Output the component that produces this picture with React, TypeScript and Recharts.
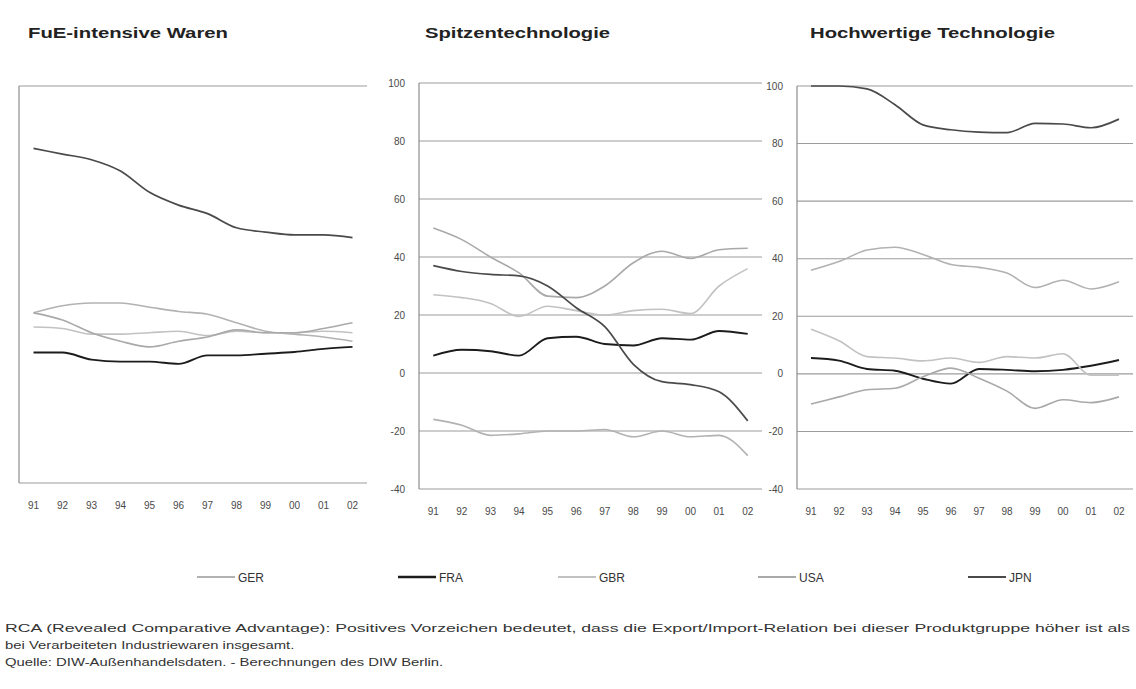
import React from 'react';
import { LineChart, Line, XAxis, YAxis, CartesianGrid } from 'recharts';

const years = ['91', '92', '93', '94', '95', '96', '97', '98', '99', '00', '01', '02'];
const yTicks = [-40, -20, 0, 20, 40, 60, 80, 100];

// FuE-intensive Waren
const fueGER = [20, 22.5, 23.5, 23.5, 22, 20.5, 19.5, 16.5, 13.5, 12.5, 11.5, 10];
const fueFRA = [6, 6, 3.5, 2.8, 2.8, 2, 5, 5, 5.6, 6.2, 7.3, 8];
const fueGBR = [15, 14.5, 12.5, 12.5, 13, 13.5, 12, 13.5, 13, 13, 13.5, 13];
const fueUSA = [20, 17.5, 13, 10, 8, 10, 11.5, 14, 13, 13, 14.5, 16.5];
const fueJPN = [78, 76, 74, 70, 62.5, 58, 55, 50, 48.5, 47.5, 47.5, 46.5];

// Spitzentechnologie
const spiGER = [-16, -18, -21.5, -21, -20, -20, -19.5, -22, -20, -22, -21.5, -28.5];
const spiFRA = [6, 8, 7.5, 6, 12, 12.5, 10, 9.5, 12, 11.5, 14.5, 13.5];
const spiGBR = [27, 26, 24, 19.5, 23, 21.5, 20, 21.5, 22, 20.5, 30, 36];
const spiUSA = [50, 46, 40, 34.5, 26.5, 26, 30, 38, 42, 39.5, 42.5, 43];
const spiJPN = [37, 35, 34, 33.5, 30, 22.5, 16, 3, -3, -4, -6.5, -16.5];

// Hochwertige Technologie
const hocGER = [36, 39, 43, 44, 41.5, 38, 37, 35, 30, 32.5, 29.5, 32];
const hocFRA = [5.5, 4.6, 1.7, 1.1, -1.7, -3.4, 1.7, 1.4, 0.9, 1.4, 2.8, 4.8];
const hocGBR = [15.5, 11.5, 6, 5.5, 4.5, 5.5, 4, 6, 5.5, 7, -0.5, -0.5];
const hocUSA = [-10.5, -8, -5.5, -5, -1, 2, -1.5, -6, -12, -9, -10, -8];
const hocJPN = [100, 100, 99, 93.5, 86.5, 84.8, 84, 83.8, 87, 86.8, 85.5, 88.5];

const SERIES = [
  { key: 'GER', color: '#b2b2b2', width: 1.6 },
  { key: 'FRA', color: '#1c1c1c', width: 1.9 },
  { key: 'GBR', color: '#c2c2c2', width: 1.6 },
  { key: 'USA', color: '#a9a9a9', width: 1.6 },
  { key: 'JPN', color: '#4a4a4a', width: 1.7 },
];

const build = (ger: number[], fra: number[], gbr: number[], usa: number[], jpn: number[]) =>
  years.map((year, i) => ({ year, GER: ger[i], FRA: fra[i], GBR: gbr[i], USA: usa[i], JPN: jpn[i] }));

const fueData = build(fueGER, fueFRA, fueGBR, fueUSA, fueJPN);
const spiData = build(spiGER, spiFRA, spiGBR, spiUSA, spiJPN);
const hocData = build(hocGER, hocFRA, hocGBR, hocUSA, hocJPN);

const FONT = '"Liberation Sans", Arial, sans-serif';
const CH = 540;

interface PanelProps {
  data: Record<string, unknown>[];
  plotLeft: number;
  plotRight: number;
  plotTop: number;
  plotBottom: number;
  showLabels: boolean;
}

function Panel({ data, plotLeft, plotRight, plotTop, plotBottom, showLabels }: PanelProps) {
  const yw = 40;
  const left = plotLeft - yw;
  const width = plotRight - left + 4;
  const half = (plotRight - plotLeft) / years.length / 2;
  return (
    <div style={{ position: 'absolute', left, top: 0 }}>
      <LineChart
        width={width}
        height={CH}
        data={data}
        margin={{ top: plotTop, right: 4, left: 0, bottom: CH - plotBottom - 40 }}
      >
        <CartesianGrid vertical={false} stroke="#9c9c9c" strokeWidth={1.1} />
        <XAxis
          dataKey="year"
          height={40}
          padding={{ left: half, right: half }}
          axisLine={false}
          tickLine={false}
          tickSize={0}
          tickMargin={19}
          interval={0}
          tick={{ fontSize: 10, fill: '#4a4a4a', fontFamily: FONT }}
        />
        <YAxis
          type="number"
          domain={[-40, 100]}
          ticks={yTicks}
          interval={0}
          width={yw}
          axisLine={{ stroke: '#8c8c8c', strokeWidth: 1.2 }}
          tickLine={false}
          tickSize={0}
          tickMargin={14}
          tick={showLabels ? { fontSize: 10, fill: '#4a4a4a', fontFamily: FONT } : false}
        />
        {SERIES.map((s) => (
          <Line
            key={s.key}
            type="monotone"
            dataKey={s.key}
            stroke={s.color}
            strokeWidth={s.width}
            dot={false}
            isAnimationActive={false}
          />
        ))}
      </LineChart>
    </div>
  );
}

const legendItems = [
  { key: 'GER', x: 197 },
  { key: 'FRA', x: 398 },
  { key: 'GBR', x: 558 },
  { key: 'USA', x: 758 },
  { key: 'JPN', x: 968 },
];

export default function App() {
  return (
    <div style={{ position: 'absolute', left: 0, top: 0, width: 1136, height: 689, background: '#fff', fontFamily: FONT }}>
      <Panel data={fueData} plotLeft={18.5} plotRight={366.5} plotTop={86} plotBottom={483} showLabels={false} />
      <Panel data={spiData} plotLeft={419} plotRight={762} plotTop={83} plotBottom={489} showLabels />
      <Panel data={hocData} plotLeft={797} plotRight={1133} plotTop={86} plotBottom={489} showLabels />

      <svg width={1136} height={689} style={{ position: 'absolute', left: 0, top: 0, pointerEvents: 'none' }}>
        <g fontFamily={FONT} fontWeight="bold" fontSize={14} fill="#222">
          <text x={28} y={38} textLength={200} lengthAdjust="spacingAndGlyphs">FuE-intensive Waren</text>
          <text x={425} y={38} textLength={185} lengthAdjust="spacingAndGlyphs">Spitzentechnologie</text>
          <text x={810} y={38} textLength={245} lengthAdjust="spacingAndGlyphs">Hochwertige Technologie</text>
        </g>
        <g fontFamily={FONT} fontSize={12} fill="#333">
          {legendItems.map((it) => {
            const s = SERIES.find((d) => d.key === it.key)!;
            return (
              <g key={it.key}>
                <line x1={it.x} x2={it.x + 38} y1={577} y2={577} stroke={s.color} strokeWidth={s.width + 0.4} />
                <text x={it.x + 41} y={581.5}>{it.key}</text>
              </g>
            );
          })}
        </g>
        <g fontFamily={FONT} fontSize={11} fill="#333" transform="translate(5,0) scale(1.35,1)">
          <text x={0} y={632} textLength={1125 / 1.35} lengthAdjust="spacingAndGlyphs">
            RCA (Revealed Comparative Advantage): Positives Vorzeichen bedeutet, dass die Export/Import-Relation bei dieser Produktgruppe höher ist als
          </text>
          <text x={0} y={649}>bei Verarbeiteten Industriewaren insgesamt.</text>
          <text x={0} y={666}>Quelle: DIW-Außenhandelsdaten. - Berechnungen des DIW Berlin.</text>
        </g>
      </svg>
    </div>
  );
}
